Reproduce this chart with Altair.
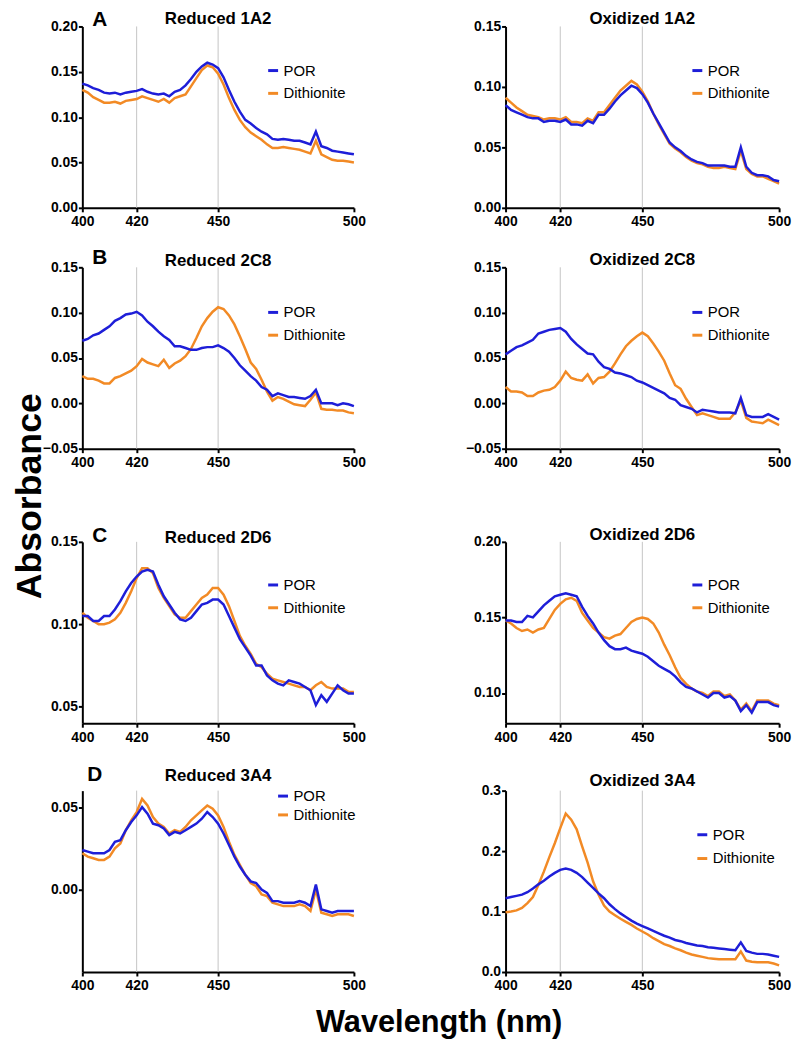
import altair as alt
import pandas as pd

# ---------------- data ----------------
WAVELENGTH = list(range(400, 501, 2))
GRID_LINES = [420, 450]
X_TICKS = [400, 420, 450, 500]
SERIES = ["POR", "Dithionite"]

red1a2_por = [0.137, 0.135, 0.132, 0.130, 0.127, 0.126, 0.127, 0.125, 0.127, 0.128,
              0.129, 0.131, 0.128, 0.126, 0.125, 0.126, 0.123, 0.128, 0.130, 0.135,
              0.142, 0.150, 0.156, 0.160, 0.158, 0.154, 0.144, 0.130, 0.117, 0.106,
              0.097, 0.093, 0.088, 0.084, 0.081, 0.076, 0.075, 0.076, 0.075, 0.074,
              0.074, 0.072, 0.070, 0.084, 0.068, 0.066, 0.063, 0.062, 0.061, 0.060, 0.059]
red1a2_dith = [0.130, 0.127, 0.122, 0.119, 0.116, 0.116, 0.117, 0.115, 0.118, 0.119,
               0.120, 0.123, 0.121, 0.119, 0.117, 0.120, 0.116, 0.121, 0.123, 0.125,
               0.134, 0.143, 0.152, 0.157, 0.155, 0.148, 0.136, 0.121, 0.108, 0.097,
               0.089, 0.083, 0.079, 0.075, 0.070, 0.066, 0.066, 0.067, 0.066, 0.065,
               0.064, 0.062, 0.060, 0.074, 0.059, 0.056, 0.053, 0.052, 0.052, 0.051, 0.050]

ox1a2_por = [0.085, 0.081, 0.079, 0.077, 0.075, 0.074, 0.074, 0.071, 0.072, 0.072,
             0.071, 0.073, 0.069, 0.069, 0.068, 0.072, 0.070, 0.077, 0.077, 0.082,
             0.088, 0.093, 0.097, 0.101, 0.099, 0.094, 0.087, 0.078, 0.070, 0.062,
             0.054, 0.050, 0.047, 0.043, 0.040, 0.038, 0.037, 0.035, 0.035, 0.035,
             0.035, 0.034, 0.034, 0.050, 0.034, 0.029, 0.027, 0.027, 0.026, 0.023, 0.022]
ox1a2_dith = [0.091, 0.087, 0.083, 0.080, 0.077, 0.076, 0.075, 0.073, 0.074, 0.074,
              0.073, 0.075, 0.071, 0.071, 0.070, 0.074, 0.072, 0.079, 0.079, 0.085,
              0.091, 0.097, 0.101, 0.105, 0.102, 0.096, 0.088, 0.078, 0.069, 0.061,
              0.053, 0.049, 0.046, 0.042, 0.039, 0.037, 0.036, 0.034, 0.033, 0.033,
              0.034, 0.033, 0.032, 0.047, 0.032, 0.028, 0.026, 0.026, 0.024, 0.022, 0.020]

red2c8_por = [0.069, 0.071, 0.075, 0.077, 0.081, 0.085, 0.091, 0.094, 0.098, 0.099,
              0.101, 0.097, 0.090, 0.085, 0.079, 0.074, 0.070, 0.063, 0.063, 0.061,
              0.059, 0.059, 0.061, 0.062, 0.062, 0.064, 0.061, 0.057, 0.050, 0.042,
              0.036, 0.030, 0.025, 0.018, 0.015, 0.008, 0.011, 0.009, 0.007, 0.007,
              0.006, 0.005, 0.008, 0.015, 0.000, 0.000, 0.000, -0.002, 0.000, -0.001, -0.003]
red2c8_dith = [0.030, 0.027, 0.027, 0.025, 0.022, 0.022, 0.028, 0.030, 0.033, 0.036,
               0.041, 0.049, 0.045, 0.043, 0.041, 0.048, 0.039, 0.044, 0.047, 0.052,
               0.060, 0.072, 0.085, 0.094, 0.101, 0.106, 0.104, 0.097, 0.087, 0.074,
               0.060, 0.045, 0.038, 0.026, 0.013, 0.003, 0.007, 0.005, 0.002, -0.001,
               -0.002, -0.003, 0.004, 0.012, -0.006, -0.007, -0.007, -0.008, -0.008, -0.010, -0.011]

ox2c8_por = [0.054, 0.058, 0.062, 0.064, 0.067, 0.070, 0.077, 0.079, 0.081, 0.082,
             0.083, 0.079, 0.071, 0.065, 0.060, 0.055, 0.054, 0.046, 0.040, 0.038,
             0.034, 0.033, 0.031, 0.029, 0.025, 0.023, 0.020, 0.017, 0.014, 0.011,
             0.006, 0.004, -0.002, -0.004, -0.006, -0.010, -0.007, -0.008, -0.009, -0.010,
             -0.010, -0.010, -0.011, 0.006, -0.013, -0.015, -0.015, -0.015, -0.012, -0.015, -0.018]
ox2c8_dith = [0.018, 0.013, 0.013, 0.012, 0.008, 0.008, 0.012, 0.014, 0.015, 0.018,
              0.025, 0.035, 0.028, 0.026, 0.025, 0.032, 0.022, 0.028, 0.029, 0.035,
              0.044, 0.054, 0.063, 0.069, 0.074, 0.078, 0.074, 0.066, 0.057, 0.047,
              0.033, 0.020, 0.016, 0.005, -0.004, -0.013, -0.011, -0.013, -0.015, -0.017,
              -0.017, -0.017, -0.010, 0.003, -0.016, -0.020, -0.021, -0.022, -0.018, -0.021, -0.024]

red2d6_por = [0.105, 0.105, 0.102, 0.102, 0.105, 0.105, 0.109, 0.114, 0.120, 0.125,
              0.129, 0.132, 0.133, 0.132, 0.124, 0.117, 0.112, 0.107, 0.103, 0.102,
              0.104, 0.108, 0.112, 0.113, 0.115, 0.115, 0.112, 0.105, 0.098, 0.091,
              0.086, 0.081, 0.075, 0.075, 0.069, 0.066, 0.064, 0.063, 0.066, 0.065,
              0.064, 0.062, 0.060, 0.051, 0.057, 0.053, 0.058, 0.063, 0.060, 0.058, 0.058]
red2d6_dith = [0.107, 0.104, 0.102, 0.100, 0.100, 0.101, 0.103, 0.107, 0.113, 0.120,
               0.128, 0.134, 0.134, 0.131, 0.122, 0.116, 0.111, 0.106, 0.104, 0.104,
               0.108, 0.112, 0.116, 0.118, 0.122, 0.122, 0.118, 0.111, 0.102, 0.093,
               0.087, 0.082, 0.076, 0.074, 0.070, 0.067, 0.066, 0.065, 0.064, 0.063,
               0.062, 0.062, 0.060, 0.063, 0.065, 0.062, 0.061, 0.061, 0.061, 0.059, 0.059]

ox2d6_por = [0.148, 0.148, 0.147, 0.147, 0.151, 0.150, 0.154, 0.158, 0.161, 0.164,
             0.165, 0.166, 0.165, 0.164, 0.157, 0.151, 0.146, 0.140, 0.135, 0.131,
             0.129, 0.129, 0.130, 0.128, 0.127, 0.126, 0.124, 0.121, 0.118, 0.116,
             0.114, 0.111, 0.107, 0.104, 0.103, 0.101, 0.099, 0.097, 0.100, 0.100,
             0.097, 0.098, 0.095, 0.088, 0.092, 0.087, 0.094, 0.094, 0.094, 0.092, 0.091]
ox2d6_dith = [0.148, 0.146, 0.143, 0.141, 0.142, 0.140, 0.142, 0.143, 0.149, 0.155,
              0.159, 0.162, 0.163, 0.161, 0.153, 0.148, 0.143, 0.140, 0.137, 0.136,
              0.138, 0.139, 0.143, 0.147, 0.149, 0.150, 0.149, 0.146, 0.140, 0.132,
              0.125, 0.117, 0.110, 0.106, 0.103, 0.101, 0.100, 0.098, 0.101, 0.101,
              0.098, 0.099, 0.095, 0.089, 0.093, 0.088, 0.095, 0.095, 0.095, 0.093, 0.092]

red3a4_por = [0.024, 0.023, 0.022, 0.022, 0.022, 0.024, 0.029, 0.030, 0.036, 0.041,
              0.045, 0.050, 0.046, 0.040, 0.039, 0.037, 0.033, 0.035, 0.034, 0.036,
              0.038, 0.040, 0.043, 0.047, 0.044, 0.040, 0.034, 0.027, 0.020, 0.014,
              0.009, 0.005, 0.004, 0.000, -0.002, -0.007, -0.007, -0.008, -0.008, -0.008,
              -0.007, -0.008, -0.010, 0.003, -0.012, -0.013, -0.014, -0.013, -0.013, -0.013, -0.013]
red3a4_dith = [0.022, 0.020, 0.019, 0.018, 0.018, 0.020, 0.025, 0.028, 0.036, 0.042,
               0.047, 0.055, 0.051, 0.044, 0.040, 0.038, 0.034, 0.036, 0.035, 0.038,
               0.042, 0.045, 0.048, 0.051, 0.049, 0.045, 0.038, 0.029, 0.021, 0.015,
               0.009, 0.004, 0.002, -0.003, -0.004, -0.008, -0.009, -0.010, -0.010, -0.010,
               -0.009, -0.010, -0.013, 0.000, -0.014, -0.015, -0.016, -0.015, -0.015, -0.015, -0.016]

ox3a4_por = [0.122, 0.124, 0.126, 0.128, 0.132, 0.138, 0.145, 0.151, 0.158, 0.164,
             0.169, 0.171, 0.169, 0.164, 0.157, 0.148, 0.139, 0.130, 0.122, 0.112,
             0.104, 0.097, 0.091, 0.085, 0.080, 0.076, 0.072, 0.068, 0.064, 0.060,
             0.057, 0.053, 0.051, 0.048, 0.046, 0.044, 0.043, 0.041, 0.040, 0.039,
             0.038, 0.037, 0.036, 0.049, 0.035, 0.032, 0.030, 0.030, 0.029, 0.027, 0.025]
ox3a4_dith = [0.099, 0.100, 0.102, 0.106, 0.114, 0.124, 0.144, 0.166, 0.190, 0.213,
              0.238, 0.262, 0.252, 0.236, 0.208, 0.181, 0.150, 0.128, 0.110, 0.100,
              0.094, 0.088, 0.083, 0.078, 0.072, 0.067, 0.062, 0.056, 0.051, 0.046,
              0.043, 0.039, 0.036, 0.032, 0.029, 0.027, 0.025, 0.023, 0.022, 0.021,
              0.021, 0.021, 0.021, 0.034, 0.019, 0.017, 0.016, 0.016, 0.016, 0.014, 0.011]

PANEL_TITLES = ["Reduced 1A2", "Oxidized 1A2", "Reduced 2C8", "Oxidized 2C8",
                "Reduced 2D6", "Oxidized 2D6", "Reduced 3A4", "Oxidized 3A4"]
PANEL_LETTERS = ["A", "", "B", "", "C", "", "D", ""]
PANEL_POR = [red1a2_por, ox1a2_por, red2c8_por, ox2c8_por,
             red2d6_por, ox2d6_por, red3a4_por, ox3a4_por]
PANEL_DITH = [red1a2_dith, ox1a2_dith, red2c8_dith, ox2c8_dith,
              red2d6_dith, ox2d6_dith, red3a4_dith, ox3a4_dith]
Y_DOMAINS = [[0, 0.20], [0, 0.15], [-0.05, 0.15], [-0.05, 0.15],
             [0.04, 0.15], [0.08, 0.20], [-0.05, 0.06], [0, 0.3]]
Y_TICKS = [[0, 0.05, 0.10, 0.15, 0.20], [0, 0.05, 0.10, 0.15],
           [-0.05, 0, 0.05, 0.10, 0.15], [-0.05, 0, 0.05, 0.10, 0.15],
           [0.05, 0.10, 0.15], [0.10, 0.15, 0.20], [0, 0.05], [0, 0.1, 0.2, 0.3]]
Y_FORMATS = [".2f", ".2f", ".2f", ".2f", ".2f", ".2f", ".2f", ".1f"]

# ---------------- style / layout ----------------
FONT = "Liberation Sans"
BLUE = "#1e1ed8"
ORANGE = "#f28a25"
LEFT_W, RIGHT_W, H = 274, 276, 183

TITLE_DY = [-7, -7, -6, -7, -4, -7, -15, -10]
LETTER_POS = [(10, -6), None, (10, -9), None, (10, -6), None, (5, -16), None]
LEGEND_POS = [(185, 45, 22), (186, 45, 22), (185, 46, 22), (186, 46, 22),
              (185, 44, 22), (186, 44, 22), (195, 6, 18), (191, 45, 23)]


def panel(i):
    w = LEFT_W if i % 2 == 0 else RIGHT_W
    n = len(WAVELENGTH)
    df = pd.DataFrame({
        "wavelength": WAVELENGTH * 2,
        "absorbance": PANEL_POR[i] + PANEL_DITH[i],
        "series": ["POR"] * n + ["Dithionite"] * n,
    })
    xscale = alt.Scale(domain=[400, 500], nice=False, zero=False)
    yscale = alt.Scale(domain=Y_DOMAINS[i], nice=False, zero=False)
    xaxis = alt.Axis(values=X_TICKS, format="d", title=None, labelFlush=False,
                     grid=False, tickSize=4, labelPadding=3)
    yaxis = alt.Axis(values=Y_TICKS[i], format=Y_FORMATS[i], title=None,
                     grid=False, tickSize=4, labelPadding=1)
    lx, ly, lsp = LEGEND_POS[i]
    legend = alt.Legend(title=None, orient="none", legendX=lx, legendY=ly - 8,
                        symbolType="stroke", symbolSize=100, symbolStrokeWidth=3,
                        labelFontSize=15, labelFont=FONT, labelColor="black",
                        labelOffset=3, rowPadding=lsp - 15)
    color = alt.Color("series:N", scale=alt.Scale(domain=SERIES, range=[BLUE, ORANGE]),
                      legend=legend)
    x = alt.X("wavelength:Q", scale=xscale, axis=xaxis)
    y = alt.Y("absorbance:Q", scale=yscale, axis=yaxis)

    grid = alt.Chart(pd.DataFrame({"wavelength": GRID_LINES})).mark_rule(
        color="#c4c4c4", strokeWidth=1).encode(x=x)
    base = alt.Chart(df)
    dith = base.transform_filter(alt.datum.series == "Dithionite").mark_line(
        strokeWidth=2.5).encode(x=x, y=y, color=color)
    por = base.transform_filter(alt.datum.series == "POR").mark_line(
        strokeWidth=2.5).encode(x=x, y=y, color=color)
    title = alt.Chart(pd.DataFrame({"t": [PANEL_TITLES[i]]})).mark_text(
        font=FONT, fontSize=17, fontWeight="bold", color="black",
        align="center", baseline="middle").encode(
        text="t:N", x=alt.value(w / 2), y=alt.value(TITLE_DY[i]))
    layers = [grid, dith, por, title]
    if LETTER_POS[i] is not None:
        dx, dy = LETTER_POS[i]
        letter = alt.Chart(pd.DataFrame({"t": [PANEL_LETTERS[i]]})).mark_text(
            font=FONT, fontSize=21, fontWeight="bold", color="black",
            align="left", baseline="middle").encode(
            text="t:N", x=alt.value(dx), y=alt.value(dy))
        layers.append(letter)
    if i == 2:
        ylab = alt.Chart(pd.DataFrame({"t": ["Absorbance"]})).mark_text(
            font=FONT, fontSize=36, fontWeight="bold", color="black", angle=270,
            align="center", baseline="middle").encode(
            text="t:N", x=alt.value(-53), y=alt.value(231))
        layers.append(ylab)
    if i == 6:
        xlab = alt.Chart(pd.DataFrame({"t": ["Wavelength (nm)"]})).mark_text(
            font=FONT, fontSize=31, fontWeight="bold", color="black",
            align="center", baseline="middle").encode(
            text="t:N", x=alt.value(360), y=alt.value(235))
        layers.append(xlab)
    return alt.layer(*layers).properties(width=w, height=H)


def spacer(h, w):
    return alt.Chart(pd.DataFrame({"a": [0]})).mark_point(opacity=0).encode(
        x=alt.value(0), y=alt.value(0)).properties(width=w, height=h)


cells = [panel(0), panel(1),
         spacer(50, LEFT_W), spacer(50, RIGHT_W),
         panel(2), panel(3),
         spacer(84, LEFT_W), spacer(84, RIGHT_W),
         panel(4), panel(5),
         spacer(58, LEFT_W), spacer(58, RIGHT_W),
         panel(6), panel(7)]

chart = alt.concat(*cells, columns=2, bounds="flush", align="each",
                   spacing={"row": 5, "column": 153}).resolve_scale(
    color="independent", x="independent", y="independent"
).properties(
    padding={"left": 3, "top": -4, "right": 0, "bottom": 0},
    background="white",
).configure_view(
    stroke="transparent"
).configure_axis(
    labelFont=FONT, labelFontSize=14, labelFontWeight="bold", labelColor="black",
    domainColor="black", domainWidth=2, tickColor="black", tickWidth=2
)

chart.save("out.html", embed_options={"renderer": "svg", "actions": False})
